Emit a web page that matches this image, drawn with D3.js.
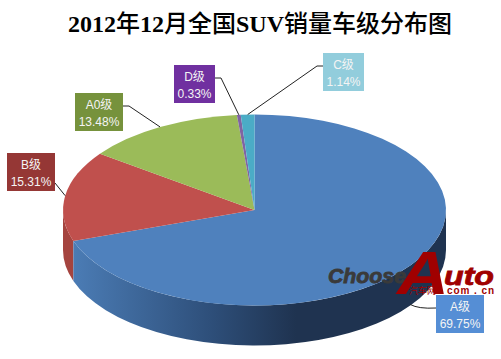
<!DOCTYPE html>
<html>
<head>
<meta charset="utf-8">
<script src="https://cdn.jsdelivr.net/npm/d3@7"></script>
<style>
  html, body { margin: 0; padding: 0; background: #fff; }
  svg { display: block; }
  text { font-family: "Liberation Sans", "Noto Sans CJK SC", sans-serif; }
</style>
</head>
<body>
<div id="chart"></div>
<script>
// Chart data
const categories = ['A级', 'B级', 'A0级', 'D级', 'C级'];
const shares = [69.75, 15.31, 13.48, 0.33, 1.14];
const shareLabels = ['69.75%', '15.31%', '13.48%', '0.33%', '1.14%'];
const titleParts = ['2012', '年', '12', '月全国', 'SUV', '销量车级分布图'];

const sliceColors = ['#4f81bd', '#c0504d', '#9bbb59', '#8064a2', '#4bacc6'];
const boxColors = ['#558ed5', '#953735', '#76923c', '#7030a0', '#92cddc'];

// Label box top-left corners
const boxX = [436, 7, 75, 174, 323];
const boxY = [295, 153, 93, 65, 53];
const boxW = [48, 48, 48, 41, 41];
const boxH = 38;

const width = 501, height = 359;
const cx = 254.5, cy = 210, rx = 191.5, ry = 95.5, depth = 40;

const svg = d3.select('#chart').append('svg')
    .attr('width', width)
    .attr('height', height);

// Title, latin in bold serif and the chinese a bit lighter
svg.append('text')
    .attr('x', 260)
    .attr('y', 32)
    .attr('text-anchor', 'middle')
    .attr('font-size', 24)
    .attr('fill', '#000')
    .selectAll('tspan')
    .data(titleParts)
    .enter()
    .append('tspan')
    .attr('font-weight', (d, i) => i % 2 === 0 && i < 5 ? 'bold' : 500)
    .style('font-family', (d, i) => i % 2 === 0 && i < 5 ? '"Liberation Serif", serif' : '"Noto Sans CJK SC", sans-serif')
    .text(d => d);

const pie = d3.pie().sort(null).value(d => d)
    .startAngle(0).endAngle(2 * Math.PI);
const slices = pie(shares);

// Angle to point on the rim, squashed into an ellipse
const xScale = d3.scaleLinear().domain([-1, 1]).range([cx - rx, cx + rx]);
const yScale = d3.scaleLinear().domain([-1, 1]).range([cy + ry, cy - ry]);
const rimX = a => xScale(Math.sin(a));
const rimY = a => yScale(Math.cos(a));

// Gradient for the side wall
const defs = svg.append('defs');
const blueWall = defs.append('linearGradient')
    .attr('id', 'blue-wall')
    .attr('gradientUnits', 'userSpaceOnUse')
    .attr('x1', cx - rx + 10).attr('x2', cx + rx - 30)
    .attr('y1', 0).attr('y2', 0);
blueWall.append('stop').attr('offset', 0).attr('stop-color', '#4b7cb5');
blueWall.append('stop').attr('offset', 0.4).attr('stop-color', '#2e4f7a');
blueWall.append('stop').attr('offset', 0.65).attr('stop-color', '#1f3350');
blueWall.append('stop').attr('offset', 1).attr('stop-color', '#1f3350');

// Side wall, only the front half of the pie shows
function wallPath(a0, a1) {
    const from = Math.max(a0, Math.PI / 2);
    const to = Math.min(a1, 3 * Math.PI / 2);
    const x0 = rimX(from), y0 = rimY(from), x1 = rimX(to), y1 = rimY(to);
    return `M${x0},${y0} A${rx},${ry} 0 0 1 ${x1},${y1} L${x1},${y1 + depth} A${rx},${ry} 0 0 0 ${x0},${y0 + depth} Z`;
}

svg.append('path')
    .attr('d', wallPath(slices[1].startAngle, slices[1].endAngle))
    .attr('fill', '#a5443f');
svg.append('path')
    .attr('d', wallPath(slices[0].startAngle, slices[0].endAngle))
    .attr('fill', 'url(#blue-wall)');

// Top face
const arc = d3.arc().innerRadius(0).outerRadius(1);
svg.append('g')
    .attr('transform', `translate(${cx},${cy}) scale(${rx},${ry})`)
    .selectAll('path')
    .data(slices)
    .enter()
    .append('path')
    .attr('d', arc)
    .attr('fill', (d, i) => sliceColors[i]);

// Leader lines from the middle of each slice's rim to its box
svg.append('g')
    .selectAll('path')
    .data(slices)
    .enter()
    .append('path')
    .attr('fill', 'none')
    .attr('stroke', '#222')
    .attr('stroke-width', 1)
    .attr('d', (d, i) => {
        const mid = (d.startAngle + d.endAngle) / 2;
        const x = rimX(mid);
        const y = rimY(mid) + (i === 0 ? depth : 0);
        const by = boxY[i] + 13;
        if (i === 0) return `M${x},${y - 1} Q${x + 8},${by + 1} ${boxX[i]},${by}`;
        if (i === 1) return `M${x},${y} L${boxX[i] + boxW[i]},${boxY[i] + 30}`;
        const right = i < 4;
        const edge = right ? boxX[i] + boxW[i] : boxX[i];
        return `M${x},${y} L${edge + (right ? 6 : -6)},${by} L${edge},${by}`;
    });

// Label boxes
const labels = svg.append('g')
    .selectAll('g')
    .data(categories)
    .enter()
    .append('g');

labels.append('rect')
    .attr('x', (d, i) => boxX[i])
    .attr('y', (d, i) => boxY[i])
    .attr('width', (d, i) => boxW[i])
    .attr('height', boxH)
    .attr('fill', (d, i) => boxColors[i]);

labels.append('text')
    .attr('x', (d, i) => boxX[i] + boxW[i] / 2)
    .attr('y', (d, i) => boxY[i] + 16)
    .attr('text-anchor', 'middle')
    .attr('font-size', 12)
    .attr('fill', '#f4f4f4')
    .text(d => d);

labels.append('text')
    .attr('x', (d, i) => boxX[i] + boxW[i] / 2)
    .attr('y', (d, i) => boxY[i] + 33)
    .attr('text-anchor', 'middle')
    .attr('font-size', 12)
    .attr('fill', '#f4f4f4')
    .text((d, i) => shareLabels[i]);

// Watermark
const mark = svg.append('g')
    .attr('font-weight', 'bold')
    .attr('font-style', 'italic');
mark.append('text')
    .attr('x', 328).attr('y', 283)
    .attr('font-size', 20)
    .attr('fill', '#3a3a3a')
    .attr('stroke', '#3a3a3a')
    .attr('stroke-width', 0.8)
    .attr('textLength', 78)
    .attr('lengthAdjust', 'spacingAndGlyphs')
    .text('Choose');
mark.append('text')
    .attr('x', 397).attr('y', 294)
    .attr('font-size', 62)
    .attr('fill', '#a00000')
    .attr('textLength', 52)
    .attr('lengthAdjust', 'spacingAndGlyphs')
    .text('A');
mark.append('text')
    .attr('x', 444).attr('y', 285)
    .attr('font-size', 26)
    .attr('fill', '#a00000')
    .attr('stroke', '#a00000')
    .attr('stroke-width', 0.8)
    .attr('textLength', 50)
    .attr('lengthAdjust', 'spacingAndGlyphs')
    .text('uto');
svg.append('text')
    .attr('x', 409).attr('y', 294)
    .attr('font-size', 9)
    .attr('fill', '#a00000')
    .text('汽车网');
svg.append('text')
    .attr('x', 447).attr('y', 294)
    .attr('font-size', 10)
    .attr('font-weight', 'bold')
    .attr('fill', '#a00000')
    .attr('textLength', 47)
    .text('com . cn');
</script>
</body>
</html>
